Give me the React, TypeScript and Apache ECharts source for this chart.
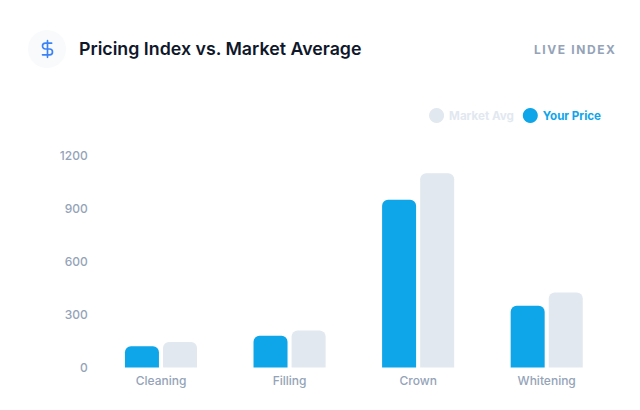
import React, { useEffect, useRef } from "react";
import * as echarts from "echarts";

const categories = ["Cleaning", "Filling", "Crown", "Whitening"];
const yourPrice = [120, 180, 950, 350];
const marketAvg = [145, 210, 1100, 425];

const FONT = "Inter";
echarts.graphic.registerShape(
  "dollarIcon",
  echarts.graphic.extendPath("M12 2v20M17 5H9.5a3.5 3.5 0 0 0 0 7h5a3.5 3.5 0 0 1 0 7H6", {})
);

export default function App() {
  const ref = useRef<HTMLDivElement>(null);
  useEffect(() => {
    document.body.style.margin = "0";
    document.body.style.background = "#ffffff";
    const chart = echarts.init(ref.current!, undefined, { renderer: "svg" });
    chart.setOption({
      animation: false,
      backgroundColor: "#ffffff",
      textStyle: { fontFamily: FONT },
      grid: { left: 96.7, right: 29, top: 155.5, bottom: 42.5, containLabel: false },
      legend: {
        data: ["Market Avg", "Your Price"],
        right: 34,
        top: 103,
        icon: "circle",
        itemWidth: 15,
        itemHeight: 15,
        itemGap: 9,
        selectedMode: false,
        formatter: (n: string) => `{${n === "Market Avg" ? "a" : "b"}|${n}}`,
        textStyle: {
          rich: {
            a: { color: "#e2e8f0", fontSize: 11.6, fontWeight: 700, fontFamily: FONT },
            b: { color: "#0ea5e9", fontSize: 11.6, fontWeight: 700, fontFamily: FONT },
          },
        },
      },
      xAxis: {
        type: "category",
        data: categories,
        axisLine: { show: false },
        axisTick: { show: false },
        axisLabel: { color: "#94a3b8", fontSize: 12, fontWeight: 500, margin: 6.5 },
      },
      yAxis: {
        type: "value",
        min: 0,
        max: 1200,
        interval: 300,
        axisLine: { show: false },
        axisTick: { show: false },
        splitLine: { show: false },
        axisLabel: {
          color: "#94a3b8",
          fontSize: 12,
          fontWeight: 500,
          margin: 9,
          formatter: (v: number) => String(v),
        },
      },
      series: [
        {
          name: "Your Price",
          type: "bar",
          data: yourPrice,
          barWidth: 34,
          barGap: "12%",
          itemStyle: { color: "#0ea5e9", borderRadius: [6, 6, 0, 0] },
        },
        {
          name: "Market Avg",
          type: "bar",
          data: marketAvg,
          barWidth: 34,
          itemStyle: { color: "#e2e8f0", borderRadius: [6, 6, 0, 0] },
        },
      ],
      graphic: [
        { type: "circle", shape: { cx: 47, cy: 49, r: 19 }, style: { fill: "#f8fafc" } },
        {
          type: "dollarIcon",
          x: 37.5,
          y: 39,
          scaleX: 20 / 24,
          scaleY: 20 / 24,
          style: { fill: "none", stroke: "#3b82f6", lineWidth: 2, lineCap: "round", lineJoin: "round" },
        },
        {
          type: "text",
          x: 79,
          y: 48.5,
          style: {
            text: "Pricing Index vs. Market Average",
            fill: "#0f172a",
            font: `600 17.8px ${FONT}`,
            textVerticalAlign: "middle",
          },
        },
        {
          type: "text",
          x: 616.5,
          y: 49,
          style: {
            text: "LIVE INDEX",
            fill: "#94a3b8",
            font: `700 12px ${FONT}`,
            textAlign: "right",
            textVerticalAlign: "middle",
          },
        },
      ],
    });
    ref.current!.querySelectorAll("text").forEach((t) => {
      if (t.textContent === "LIVE INDEX") (t as SVGTextElement).style.letterSpacing = "1.6px";
    });
    return () => chart.dispose();
  }, []);
  return <div ref={ref} style={{ width: 640, height: 410 }} />;
}
